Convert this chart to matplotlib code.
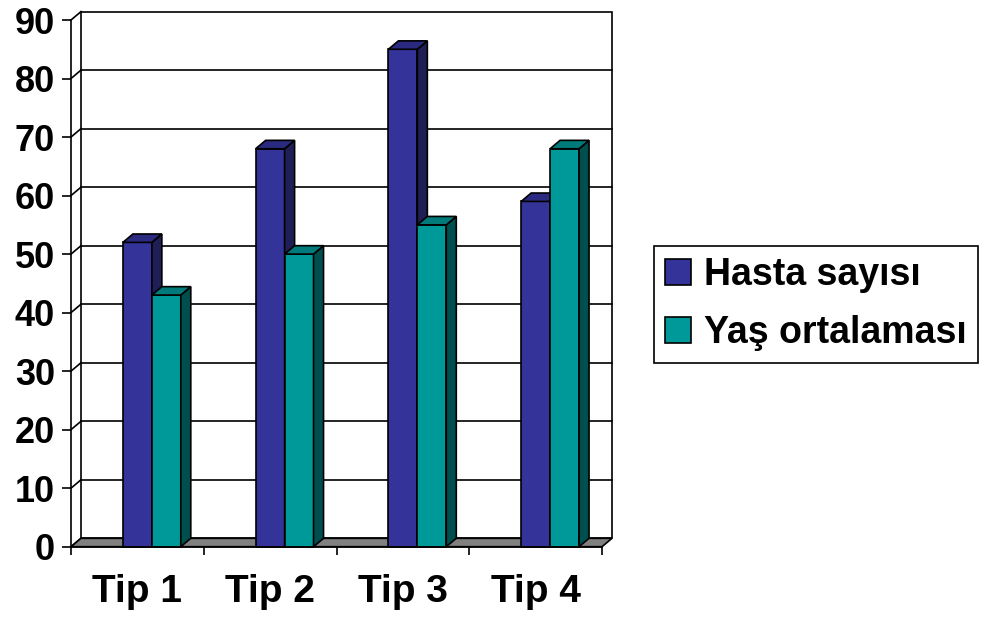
import matplotlib
matplotlib.use("Agg")
import matplotlib.pyplot as plt
from matplotlib.patches import Polygon, Rectangle, Patch

plt.rcParams['font.family'] = ['Liberation Sans', 'DejaVu Sans']
plt.rcParams['font.weight'] = 'bold'

# data
categories = ['Tip 1', 'Tip 2', 'Tip 3', 'Tip 4']
hasta = [52, 68, 85, 59]
yas = [43, 50, 55, 68]
series_names = ['Hasta sayısı', 'Yaş ortalaması']
yticks = [0, 10, 20, 30, 40, 50, 60, 70, 80, 90]

# colours (front, side, top)
blue = ('#333399', '#1f1f55', '#2a2a80')
teal = ('#009999', '#004f4f', '#007a7a')

W, H = 992, 617
fig = plt.figure(figsize=(W / 100, H / 100), dpi=100)
# front plane of the 3D box in pixels
x0, x1 = 71, 602
yb, yt = 546.7, 20
ax = fig.add_axes([x0 / W, (H - yb) / H, (x1 - x0) / W, (yb - yt) / H])
ax.set_xlim(-0.5, 3.5)
ax.set_ylim(0, 90)
ax.patch.set_visible(False)

# depth offset in data units (10 px right, 8.4 px up)
DX = 10 / (x1 - x0) * 4
DY = 8.4 / (yb - yt) * 90
LW = 1.2

# back wall
ax.add_patch(Rectangle((-0.5 + DX, DY), 4, 90, facecolor='white', edgecolor='black',
                       lw=LW, zorder=1, clip_on=False))
for v in yticks:
    if 0 < v < 90:
        ax.plot([-0.5 + DX, 3.5 + DX], [v + DY, v + DY], color='black', lw=LW, zorder=2, clip_on=False)
    # left wall diagonals
    ax.plot([-0.5, -0.5 + DX], [v, v + DY], color='black', lw=LW, zorder=2, clip_on=False)

# floor
ax.add_patch(Polygon([(-0.5, 0), (3.5, 0), (3.5 + DX, DY), (-0.5 + DX, DY)],
                     closed=True, facecolor='#808080', edgecolor='black', lw=LW,
                     zorder=3, clip_on=False))

bw = 0.218


def bar3d(xc, h, cols, z):
    ax.bar(xc, h, width=bw, color=cols[0], edgecolor='black', lw=LW, zorder=z, clip_on=False)
    l, r = xc - bw / 2, xc + bw / 2
    ax.add_patch(Polygon([(r, 0), (r + DX, DY), (r + DX, h + DY), (r, h)], closed=True,
                         facecolor=cols[1], edgecolor='black', lw=LW, zorder=z, clip_on=False))
    ax.add_patch(Polygon([(l, h), (r, h), (r + DX, h + DY), (l + DX, h + DY)], closed=True,
                         facecolor=cols[2], edgecolor='black', lw=LW, zorder=z, clip_on=False))


for i in range(len(categories)):
    bar3d(i, hasta[i], blue, 4)
    bar3d(i + bw, yas[i], teal, 5)

# axes styling
for s in ['top', 'right']:
    ax.spines[s].set_visible(False)
for s in ['left', 'bottom']:
    ax.spines[s].set_linewidth(LW)
    ax.spines[s].set_zorder(6)
ax.set_yticks(yticks)
ax.tick_params(axis='y', direction='out', length=6.5, width=LW, pad=5, labelsize=26)
ax.set_xticks([-0.5, 0.5, 1.5, 2.5, 3.5])
ax.set_xticklabels([])
ax.set_xticks(range(len(categories)), minor=True)
ax.set_xticklabels(categories, minor=True)
ax.tick_params(axis='x', which='major', direction='out', length=6, width=LW)
ax.tick_params(axis='x', which='minor', length=0, pad=20, labelsize=28)

handles = [Patch(facecolor=blue[0], edgecolor='black', lw=LW),
           Patch(facecolor=teal[0], edgecolor='black', lw=LW)]
leg = fig.legend(handles, series_names, loc='center',
                 bbox_to_anchor=(816 / W, 1 - 304 / H), fontsize=27,
                 handlelength=0.7, handleheight=0.7, handletextpad=0.35,
                 labelspacing=0.6, borderpad=0.3, borderaxespad=0, fancybox=False, framealpha=1)
leg.get_frame().set_edgecolor('black')
leg.get_frame().set_linewidth(LW)

fig.savefig('out.png', dpi=100)
